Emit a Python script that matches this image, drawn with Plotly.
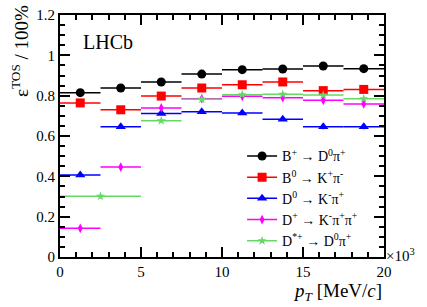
import plotly.graph_objects as go

# pT bins in units of 10^3 MeV/c
bin_lo = [0, 2.5, 5, 7.5, 10, 12.5, 15, 17.5]
bin_hi = [2.5, 5, 7.5, 10, 12.5, 15, 17.5, 20]

eff_Bp = [0.815, 0.838, 0.868, 0.907, 0.929, 0.932, 0.947, 0.934]
eff_B0 = [0.764, 0.730, 0.798, 0.838, 0.854, 0.868, 0.825, 0.831]
eff_D0 = [0.407, 0.646, 0.712, 0.720, 0.714, 0.683, 0.646, 0.646]
eff_Dp = [0.142, 0.446, 0.739, 0.785, 0.797, 0.790, 0.777, 0.759]
err_all = [0.008, 0.008, 0.008, 0.008, 0.008, 0.008, 0.012, 0.012]

# D*+ has a merged first bin 0-5
dst_lo = [0, 5, 7.5, 10, 12.5, 15, 17.5]
dst_hi = [5, 7.5, 10, 12.5, 15, 17.5, 20]
eff_Dst = [0.301, 0.676, 0.782, 0.805, 0.807, 0.803, 0.785]
err_Dst = [0.006, 0.006, 0.006, 0.008, 0.008, 0.008, 0.008]

labels = ["B<sup>+</sup> → D<sup>0</sup>π<sup>+</sup>",
          "B<sup>0</sup> → K<sup>+</sup>π<sup>-</sup>",
          "D<sup>0</sup> → K<sup>-</sup>π<sup>+</sup>",
          "D<sup>+</sup> → K<sup>-</sup>π<sup>+</sup>π<sup>+</sup>",
          "D<sup>*+</sup> → D<sup>0</sup>π<sup>+</sup>"]
colors = ["#000000", "#ff0000", "#0000ff", "#ff00ff", "#66d866"]
symbols = ["circle", "square", "triangle-up", "diamond-tall", "star"]
sizes = [9, 9, 9, 7, 7]

FONT = "Liberation Serif"

fig = go.Figure()

series = [(bin_lo, bin_hi, eff_Bp, err_all),
          (bin_lo, bin_hi, eff_B0, err_all),
          (bin_lo, bin_hi, eff_D0, err_all),
          (bin_lo, bin_hi, eff_Dp, err_all),
          (dst_lo, dst_hi, eff_Dst, err_Dst)]

for i, (lo, hi, y, e) in enumerate(series):
    xc = [(a + b) / 2 for a, b in zip(lo, hi)]
    hw = [(b - a) / 2 for a, b in zip(lo, hi)]
    fig.add_trace(go.Scatter(
        x=xc, y=y, mode="markers", showlegend=False,
        marker=dict(color=colors[i], symbol=symbols[i], size=sizes[i]),
        error_x=dict(type="data", array=hw, color=colors[i], thickness=1.5, width=0),
        error_y=dict(type="data", array=e, color=colors[i], thickness=1.5, width=0),
    ))

for i in range(5):
    fig.add_trace(go.Scatter(
        x=[None], y=[None], mode="lines+markers", name=labels[i],
        line=dict(color=colors[i], width=1.5),
        marker=dict(color=colors[i], symbol=symbols[i], size=sizes[i]),
    ))

axis_common = dict(showline=True, linecolor="black", linewidth=2, mirror="allticks",
                   ticks="inside", ticklen=10, tickwidth=1.5, tickcolor="black",
                   showgrid=False, zeroline=False, automargin=False,
                   tickfont=dict(family=FONT, size=15, color="black"))

fig.update_xaxes(range=[0, 20], tickmode="linear", tick0=0, dtick=5,
                 minor=dict(dtick=1, ticklen=5, ticks="inside", tickcolor="black", tickwidth=1.5),
                 **axis_common)
fig.update_yaxes(range=[0, 1.2], tickmode="linear", tick0=0, dtick=0.2,
                 minor=dict(dtick=0.05, ticklen=5, ticks="inside", tickcolor="black", tickwidth=1.5),
                 **axis_common)

fig.update_layout(
    width=427, height=307,
    margin=dict(l=60, r=43, t=15, b=50, autoexpand=False),
    plot_bgcolor="white", paper_bgcolor="white",
    font=dict(family=FONT, color="black"),
    legend=dict(x=0.562, y=0.482, xanchor="left", yanchor="top",
                bgcolor="rgba(0,0,0,0)", font=dict(family=FONT, size=14),
                itemwidth=30, tracegroupgap=0),
    annotations=[
        dict(text="LHCb", x=0.065, y=0.888, xref="paper", yref="paper",
             xanchor="left", yanchor="middle", showarrow=False,
             font=dict(family=FONT, size=20)),
        dict(text="×10<sup>3</sup>", x=1.0, y=0.01, xref="paper", yref="paper",
             xanchor="left", yanchor="middle", showarrow=False,
             font=dict(family=FONT, size=15)),
        dict(text="<i>p</i><sub><i>T</i></sub> [MeV/<i>c</i>]", x=1.0, y=-0.145,
             xref="paper", yref="paper", xanchor="right", yanchor="middle",
             showarrow=False, font=dict(family=FONT, size=19)),
        dict(text="ε<sup>TOS</sup> / 100%", x=-0.123, y=1.05,
             xref="paper", yref="paper", xanchor="center", yanchor="top",
             textangle=-90, showarrow=False, font=dict(family=FONT, size=19)),
    ],
)

fig.write_html("out.html", config={"displayModeBar": False},
               post_script="document.body.style.margin='0px';document.body.style.overflow='hidden';")
